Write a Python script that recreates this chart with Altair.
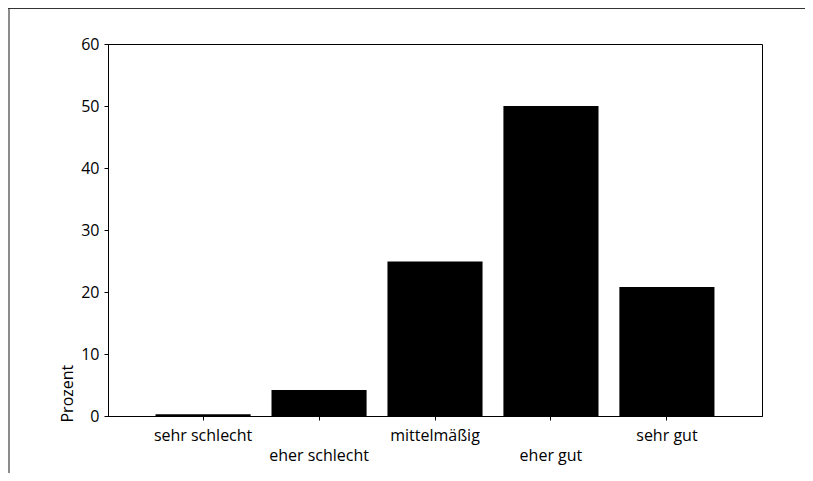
import json
import altair as alt
import pandas as pd

categories = ["sehr schlecht", "eher schlecht", "mittelmäßig", "eher gut", "sehr gut"]
values = [0.3, 4.2, 24.9, 50.0, 20.8]
y_ticks = [0, 10, 20, 30, 40, 50, 60]
lower_row = ["eher schlecht", "eher gut"]

df = pd.DataFrame({"Kategorie": categories, "Prozent": values})
FONT = "Open Sans"
FS = 16

label_expr = (
    "indexof(" + json.dumps(lower_row) + ", datum.value) >= 0 ? ['', datum.label] : datum.label"
)

bars = alt.Chart(df).mark_bar(color="black").encode(
    x=alt.X(
        "Kategorie:N",
        sort=categories,
        scale=alt.Scale(paddingInner=0.18, paddingOuter=0.41),
        axis=alt.Axis(
            title=None,
            labelAngle=0,
            labelExpr=label_expr,
            labelLineHeight=20,
            labelOverlap=False,
            tickSize=4,
            labelPadding=7,
            labelFont=FONT,
            labelFontSize=FS,
            labelColor="black",
            domainColor="black",
            tickColor="black",
        ),
    ),
    y=alt.Y(
        "Prozent:Q",
        scale=alt.Scale(domain=[0, 60], nice=False),
        axis=alt.Axis(
            values=y_ticks,
            grid=False,
            title="Prozent",
            titleFont=FONT,
            titleFontSize=FS,
            titleFontWeight="normal",
            titleColor="black",
            titleAngle=270,
            titleAlign="left",
            titleBaseline="alphabetic",
            titleX=-36,
            titleY=378,
            tickSize=4,
            labelPadding=5,
            labelFont=FONT,
            labelFontSize=FS,
            labelColor="black",
            domainColor="black",
            tickColor="black",
        ),
    ),
)

one = pd.DataFrame({"a": [0]})
frame_left = alt.Chart(one).mark_rule(color="#666666", strokeWidth=1.5).encode(
    x=alt.value(-99), y=alt.value(-36), y2=alt.value(460)
)
frame_top = alt.Chart(one).mark_rule(color="#333333", strokeWidth=1).encode(
    x=alt.value(-100), x2=alt.value(760), y=alt.value(-35.5)
)

chart = (
    alt.layer(frame_left, frame_top, bars)
    .properties(
        width=654,
        height=372,
        autosize=alt.AutoSizeParams(type="none"),
        padding={"left": 100, "top": 36, "right": 43, "bottom": 57},
        background="white",
    )
    .configure_view(stroke="black", strokeWidth=1)
)

chart.save("out.html", embed_options={"renderer": "svg", "actions": False})
